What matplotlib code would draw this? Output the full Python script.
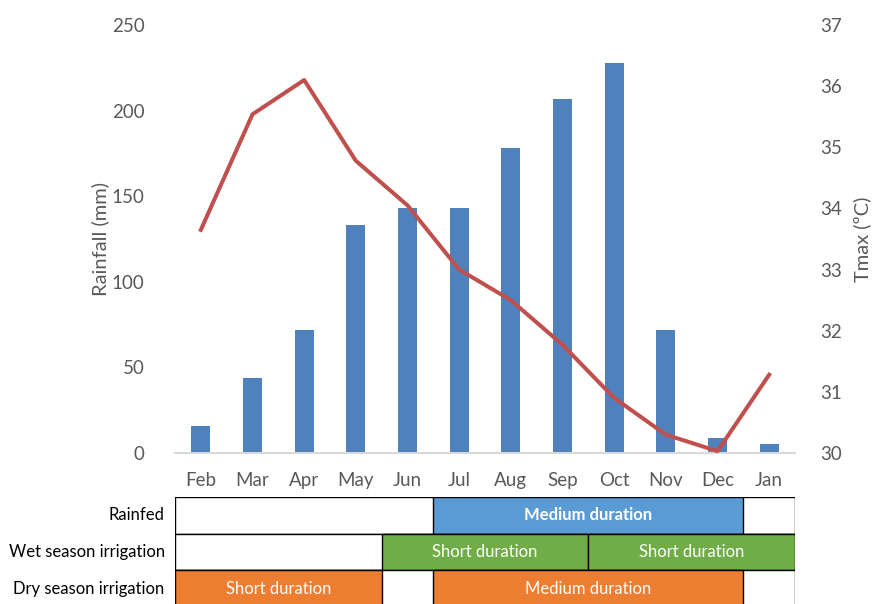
import matplotlib.pyplot as plt
from matplotlib.patches import Rectangle

plt.rcParams["font.family"] = ["Lato", "DejaVu Sans"]

months = ["Feb", "Mar", "Apr", "May", "Jun", "Jul", "Aug", "Sep", "Oct", "Nov", "Dec", "Jan"]
rainfall = [16, 44, 72, 133, 143, 143, 178, 207, 228, 72, 9, 5]
tmax = [33.65, 35.54, 36.1, 34.78, 34.05, 33.0, 32.5, 31.77, 30.9, 30.3, 30.03, 31.28]

# table rows: (label, [(start_col, end_col, text, colour, bold)])
row_labels = ["Rainfed", "Wet season irrigation", "Dry season irrigation"]
rainfed_blocks = [(5, 11, "Medium duration", "#5B9BD5", True)]
wet_blocks = [(4, 8, "Short duration", "#70AD47", False),
              (8, 12, "Short duration", "#70AD47", False)]
dry_blocks = [(0, 4, "Short duration", "#ED7D31", False),
              (5, 11, "Medium duration", "#ED7D31", False)]
table_blocks = [rainfed_blocks, wet_blocks, dry_blocks]

W, H = 874, 604
fig = plt.figure(figsize=(W / 100, H / 100), dpi=100)

x0, x1 = 175, 795
ax = fig.add_axes([x0 / W, (H - 453) / H, (x1 - x0) / W, 428 / H])
xs = list(range(len(months)))
ax.bar(xs, rainfall, width=0.37, color="#4F81BD", zorder=2)
ax.set_xlim(-0.5, 11.5)
ax.set_ylim(0, 250)
ax.set_yticks([0, 50, 100, 150, 200, 250])
ax.set_xticks(xs)
ax.set_xticklabels(months)
for s in ["top", "right", "left"]:
    ax.spines[s].set_visible(False)
ax.spines["bottom"].set_color("#D9D9D9")
ax.spines["bottom"].set_linewidth(1.5)
ax.tick_params(axis="both", length=0, labelsize=13.5, colors="#595959")
ax.tick_params(axis="y", pad=22)
ax.tick_params(axis="x", pad=14)
ax.set_ylabel("Rainfall (mm)", fontsize=14.5, color="#595959", labelpad=2)

ax2 = ax.twinx()
ax2.plot(xs, tmax, color="#C0504D", lw=2.9, zorder=3)
ax2.set_ylim(30, 37)
ax2.set_yticks(range(30, 38))
for s in ax2.spines.values():
    s.set_visible(False)
ax2.tick_params(axis="y", length=0, labelsize=13.5, colors="#595959", pad=18)
ax2.set_ylabel("Tmax (ºC)", fontsize=14.5, color="#595959", labelpad=8)

# schedule table under the chart
row_h = 36.7
tab = fig.add_axes([x0 / W, (H - 497 - 3 * row_h) / H, (x1 - x0) / W, 3 * row_h / H])
tab.set_xlim(0, 12)
tab.set_ylim(3, 0)
tab.axis("off")
for r, blocks in enumerate(table_blocks):
    tab.add_patch(Rectangle((0, r), 12, 1, facecolor="white", edgecolor="black", lw=1))
    for c0, c1, txt, col, bold in blocks:
        tab.add_patch(Rectangle((c0, r), c1 - c0, 1, facecolor=col, edgecolor="black", lw=1))
        tab.text((c0 + c1) / 2, r + 0.5, txt, ha="center", va="center", color="white",
                 fontsize=12, fontweight="bold" if bold else "normal")
    tab.text(-0.2, r + 0.5, row_labels[r], ha="right", va="center", fontsize=12, color="black")

fig.savefig("out.png", dpi=100)
